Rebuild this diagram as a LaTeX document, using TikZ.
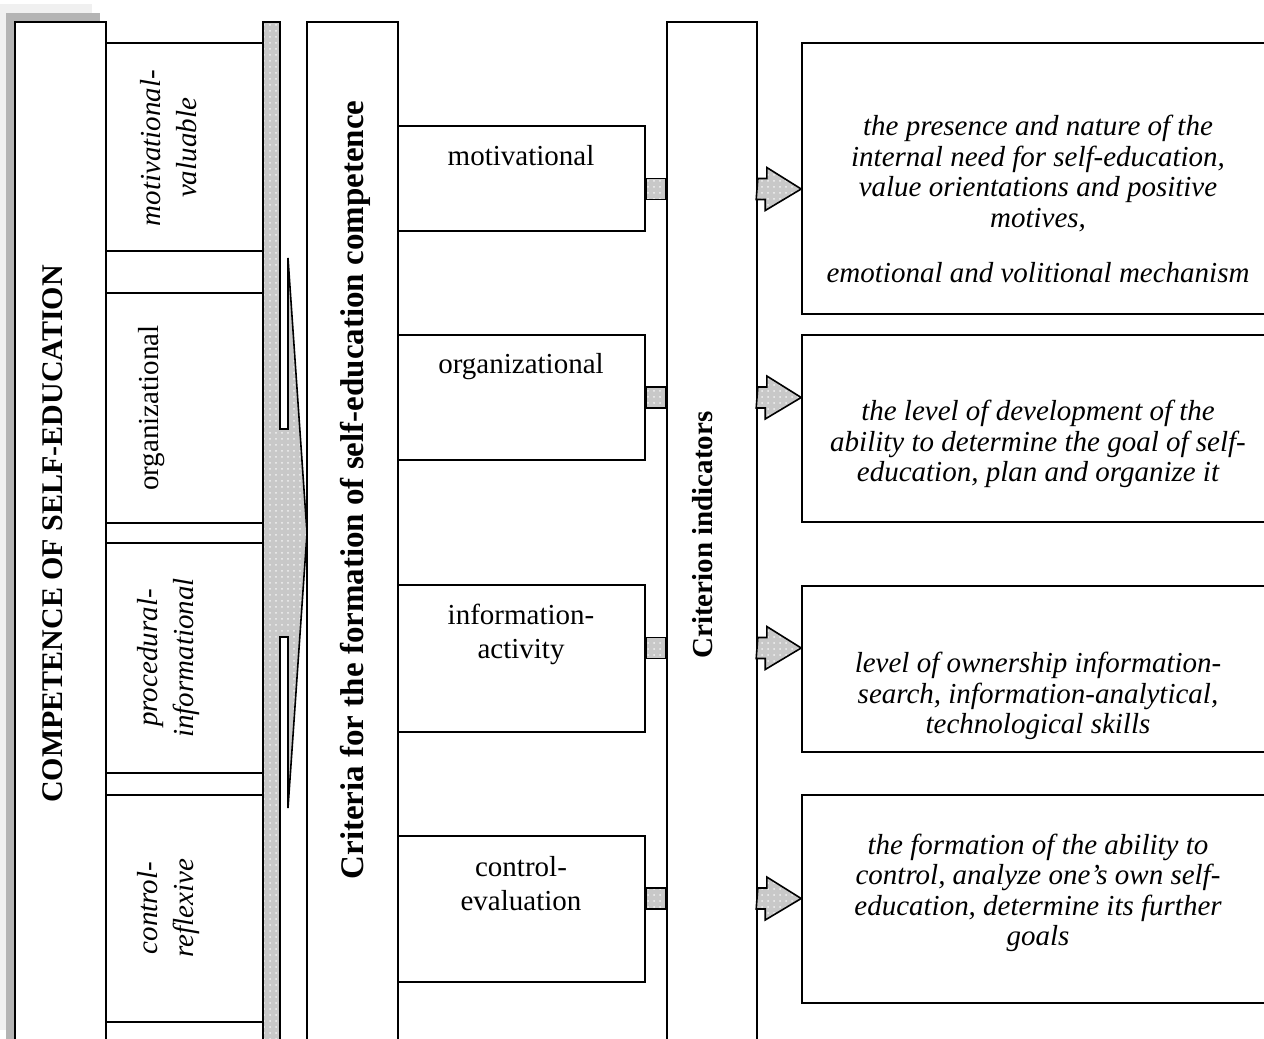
\documentclass[tikz,border=0pt]{standalone}
\usepackage{fontspec}
\setmainfont{Liberation Serif}
\usetikzlibrary{fit,calc,patterns}
\definecolor{dotgray}{RGB}{200,200,200}
\definecolor{shadowA}{RGB}{180,180,180}
\definecolor{shadowB}{RGB}{240,240,240}
\begin{document}
\begin{tikzpicture}[x=0.5pt,y=-0.5pt,
  pbox/.style={draw=black, line width=0.8pt, fill=white, inner sep=0pt, fit={#1}},
  dotbox/.style={fill=dotgray, postaction={pattern=dots, pattern color=white!75!dotgray}, postaction={draw=black, line width=0.8pt, line join=miter}},
  lbl/.style={font=\fontsize{14.5}{17}\selectfont, align=center, inner sep=0pt},
  rotit/.style={font=\fontsize{14.5}{18}\selectfont\itshape, align=center, inner sep=0pt, rotate=90},
  rotup/.style={font=\fontsize{14.5}{18}\selectfont, align=center, inner sep=0pt, rotate=90},
  rotbold/.style={font=\fontsize{14.5}{17}\selectfont\bfseries, inner sep=0pt, rotate=90, anchor=base},
  rtxt/.style={font=\fontsize{14.5}{15.25}\selectfont\itshape, align=center, inner sep=0pt}]
\useasboundingbox (0,0) rectangle (1264,1039);
\clip (0,0) rectangle (1264,1039);
\fill[white] (0,0) rectangle (1264,1039);

% shadows of the left box
\fill[shadowB] (0,4) rectangle (92,1030);
\fill[shadowA] (6,13) rectangle (100,1060);

% left column
\node[pbox={(15,22) (106,1060)}] (comp) {};
\node[pbox={(106,43) (263,251)}] (s1) {};
\node[pbox={(106,293) (263,523)}] (s2) {};
\node[pbox={(106,543) (263,773)}] (s3) {};
\node[pbox={(106,795) (263,1022)}] (s4) {};
\node[pbox={(106,1022) (263,1060)}] (s5) {};

% dotted bar with big arrow
\path[dotbox] (263,22) -- (280,22) -- (280,429) -- (288,429) -- (288,258)
  -- (307,533) -- (288,808) -- (288,637) -- (280,637) -- (280,1060)
  -- (263,1060) -- cycle;

% criteria column
\node[pbox={(307,22) (398,1060)}] (crit) {};
\node[pbox={(398,126) (645,231)}] (c1) {};
\node[pbox={(398,335) (645,460)}] (c2) {};
\node[pbox={(398,585) (645,732)}] (c3) {};
\node[pbox={(398,836) (645,982)}] (c4) {};

% indicators column
\node[pbox={(667,22) (757,1060)}] (ind) {};

% right boxes
\node[pbox={(802,43) (1275,314)}] (r1) {};
\node[pbox={(802,335) (1275,522)}] (r2) {};
\node[pbox={(802,586) (1275,752)}] (r3) {};
\node[pbox={(802,795) (1275,1003)}] (r4) {};

% row mid levels
\coordinate (m1) at (0,189);
\coordinate (m2) at (0,397.5);
\coordinate (m3) at (0,648);
\coordinate (m4) at (0,898.5);

% small connectors and arrows
\foreach \c/\m/\r in {c1/m1/r1, c2/m2/r2, c3/m3/r3, c4/m4/r4}{
  \path[dotbox] (\c.east |- \m) ++(0,-10.5) -- ($(ind.west |- \m)+(0,-10.5)$)
     -- ($(ind.west |- \m)+(0,10.5)$) -- ($(\c.east |- \m)+(0,10.5)$) -- cycle;
  \path[dotbox] (ind.east |- \m) ++(0,-10.5) -- ++(9,0) -- ++(0,-11)
     -- (\r.west |- \m) -- ++(-36,21.5) -- ++(0,-11) -- ++(-9,0) -- cycle;
}

% texts
\node[rotbold, font=\fontsize{15}{17}\selectfont\bfseries] (tcomp) at (62,534) {COMPETENCE OF SELF-EDUCATION};
\node[rotit] (tmv) at (169,148) {motivational-\\valuable};
\node[rotup] (torg) at (152,408) {organizational};
\node[rotit] (tpi) at (169,658) {procedural-\\informational};
\node[rotit] (tcr) at (169,908) {control-\\reflexive};

\node[rotbold, font=\fontsize{16.5}{18}\selectfont\bfseries] (tcrit) at (363,490) {Criteria for the formation of self-education competence};
\node[lbl, anchor=base] (tm) at (521,165) {motivational};
\node[lbl, anchor=base] (to) at (521,373) {organizational};
\node[lbl] (ti) at (521,634) {information-\\activity};
\node[lbl] (tc) at (521,884) {control-\\evaluation};

\node[rotbold] (tind) at (712,535) {Criterion indicators};

\node[rtxt] (q1) at (1038,199) {the presence and nature of the\\internal need for self-education,\\value orientations and positive\\motives,\\[12.25pt]emotional and volitional mechanism};
\node[rtxt] (q2) at (1038,444) {the level of development of the\\ability to determine the goal of self-\\education, plan and organize it};
\node[rtxt] (q3) at (1038,696) {level of ownership information-\\search, information-analytical,\\technological skills};
\node[rtxt] (q4) at (1038,893) {the formation of the ability to\\control, analyze one's own self-\\education, determine its further\\goals};
\end{tikzpicture}
\end{document}
